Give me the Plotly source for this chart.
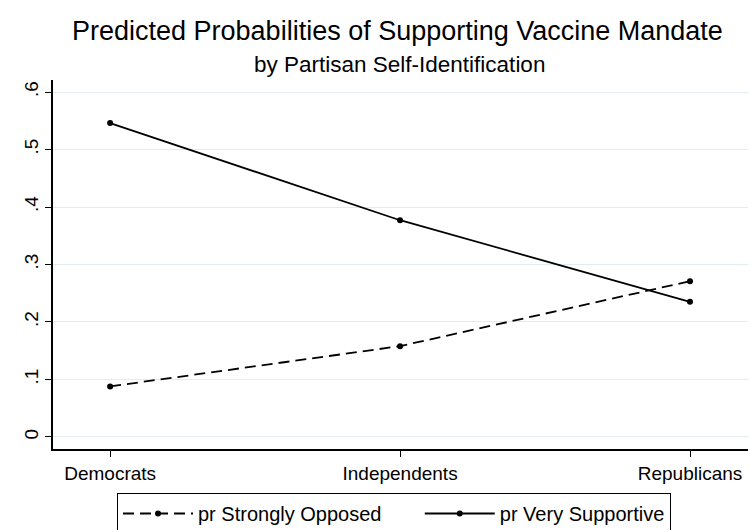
import plotly.graph_objects as go

categories = ["Democrats", "Independents", "Republicans"]
series_names = ["pr Strongly Opposed", "pr Very Supportive"]
strongly_opposed = [0.088, 0.158, 0.271]
very_supportive = [0.546, 0.377, 0.235]
y_ticks = [0, 0.1, 0.2, 0.3, 0.4, 0.5, 0.6]
y_tick_labels = ["0", ".1", ".2", ".3", ".4", ".5", ".6"]
title_text = "Predicted Probabilities of Supporting Vaccine Mandate"
subtitle_text = "by Partisan Self-Identification"

font_family = "Liberation Sans, Arial, Helvetica, sans-serif"
x_idx = list(range(len(categories)))

W, H = 750, 530
ML, MR, MT, MB = 53, 2, 80, 81
PW, PH = W - ML - MR, H - MT - MB


def px_to_paper(px, py):
    return (px - ML) / PW, (H - MB - py) / PH


fig = go.Figure()
fig.add_trace(go.Scatter(
    x=x_idx, y=strongly_opposed, mode="lines+markers",
    name=series_names[0] + "\u00a0" * 6,
    line=dict(color="black", width=1.8, dash="11px,6px"),
    marker=dict(color="black", size=6),
))
fig.add_trace(go.Scatter(
    x=x_idx, y=very_supportive, mode="lines+markers",
    name=series_names[1],
    line=dict(color="black", width=1.8),
    marker=dict(color="black", size=6),
))

tx, ty = px_to_paper(397.5, 31)
sx, sy = px_to_paper(399.5, 64)

fig.update_layout(
    width=W, height=H,
    paper_bgcolor="white", plot_bgcolor="white",
    margin=dict(l=ML, r=MR, t=MT, b=MB, autoexpand=False),
    font=dict(family=font_family, color="black", size=19),
    showlegend=True,
    legend=dict(
        orientation="h", xref="container", yref="container",
        x=117 / W, xanchor="left", y=1 - 493 / H, yanchor="top",
        bordercolor="black", borderwidth=1, bgcolor="white",
        font=dict(size=20), itemwidth=70,
    ),
    annotations=[
        dict(text=title_text, xref="paper", yref="paper",
             x=tx, y=ty, xanchor="center", yanchor="middle",
             showarrow=False, font=dict(size=27, family=font_family, color="black")),
        dict(text=subtitle_text, xref="paper", yref="paper",
             x=sx, y=sy, xanchor="center", yanchor="middle",
             showarrow=False, font=dict(size=22.5, family=font_family, color="black")),
    ],
    xaxis=dict(
        range=[-0.197, 2.2], tickmode="array", tickvals=x_idx, ticktext=categories,
        showgrid=False, zeroline=False, showline=True, linecolor="black", linewidth=1.5,
        ticks="outside", ticklen=6, tickcolor="black", tickwidth=1,
        tickfont=dict(size=19), automargin=False,
    ),
    yaxis=dict(
        range=[-0.0209, 0.6209], tickmode="array", tickvals=y_ticks, ticktext=y_tick_labels,
        showgrid=True, gridcolor="#e3ebee", gridwidth=1.2, zeroline=False,
        showline=True, linecolor="black", linewidth=1.5,
        ticks="outside", ticklen=6, tickcolor="black", tickwidth=1,
        tickangle=-90, tickfont=dict(size=19), automargin=False,
    ),
)

fig.write_html(
    "out.html",
    config={"displayModeBar": False},
    post_script="document.body.style.margin='0px'; document.body.style.overflow='hidden';",
)
